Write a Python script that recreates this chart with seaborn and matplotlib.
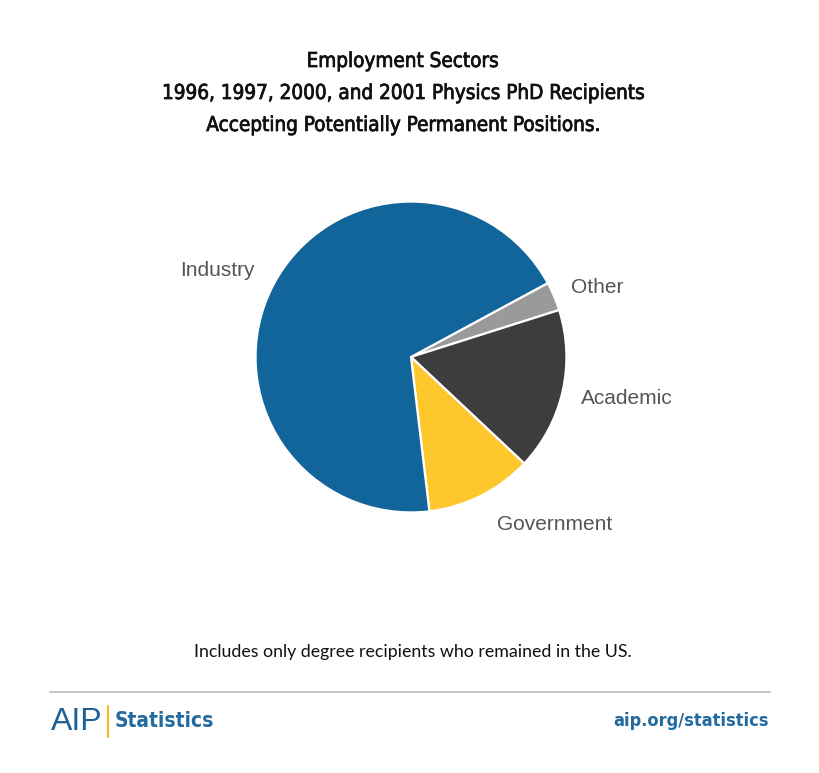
import matplotlib
matplotlib.use("Agg")
import matplotlib.pyplot as plt
import matplotlib.patheffects as pe
import seaborn as sns

sectors = ["Other", "Academic", "Government", "Industry"]
shares = [3.0, 16.9, 11.1, 69.0]
colors = ["#9a9a9a", "#3d3d3d", "#fec72e", "#12659a"]

sns.set_theme(style="white")
plt.rcParams["font.family"] = ["DejaVu Sans"]

W, H = 820, 773
fig = plt.figure(figsize=(W / 100, H / 100), dpi=100)

cx, cy, r = 411, 357, 157
ax = fig.add_axes([(cx - r) / W, (H - cy - r) / H, 2 * r / W, 2 * r / H])
wedges, _ = ax.pie(shares, colors=colors, startangle=28.4, counterclock=False,
                   radius=1.0, wedgeprops=dict(edgecolor="white", linewidth=1.6))
ax.set_xlim(-1.01, 1.01)
ax.set_ylim(-1.01, 1.01)
ax.set_aspect("equal")
ax.axis("off")

lab_font = ["Liberation Sans", "DejaVu Sans"]
label_pos = {"Industry": (217, 271), "Other": (597, 287),
             "Academic": (627, 398), "Government": (555, 525)}
for name in sectors:
    x, y = label_pos[name]
    fig.text(x / W, 1 - y / H, name, ha="center", va="center", fontsize=15,
             color="#555555", family=lab_font)

title_lines = ["Employment Sectors",
               "1996, 1997, 2000, and 2001 Physics PhD Recipients",
               "Accepting Potentially Permanent Positions."]
for i, line in enumerate(title_lines):
    fig.text(402 / W, 1 - (61 + 32 * i) / H, line, ha="center", va="center",
             fontsize=14.8, color="#111111", family=["DejaVu Sans"],
             fontstretch="condensed",
             path_effects=[pe.withStroke(linewidth=0.55, foreground="#111111")])

fig.text(412.5 / W, 1 - 652 / H, "Includes only degree recipients who remained in the US.",
         ha="center", va="center", fontsize=12.8, color="#111111", family=["Lato", "DejaVu Sans"])

fig.add_artist(plt.Line2D([50 / W, 770 / W], [1 - 692 / H] * 2, color="#bbbbbb", lw=1.2))
blue = "#236a9f"
fig.text(51 / W, 1 - 722 / H, "AIP", ha="left", va="center", fontsize=23,
         color="#1f6096", family=["Liberation Sans", "DejaVu Sans"])
fig.add_artist(plt.Line2D([108 / W, 108 / W], [1 - 706 / H, 1 - 737 / H], color="#f5b821", lw=1.5))
fig.text(115 / W, 1 - 721 / H, "Statistics", ha="left", va="center", fontsize=15,
         color=blue, family=["DejaVu Sans"], fontstretch="condensed", weight="bold")
fig.text(769 / W, 1 - 721 / H, "aip.org/statistics", ha="right", va="center", fontsize=13,
         color=blue, family=["DejaVu Sans"], fontstretch="condensed", weight="bold")

fig.savefig("out.png", dpi=100, facecolor="white")
